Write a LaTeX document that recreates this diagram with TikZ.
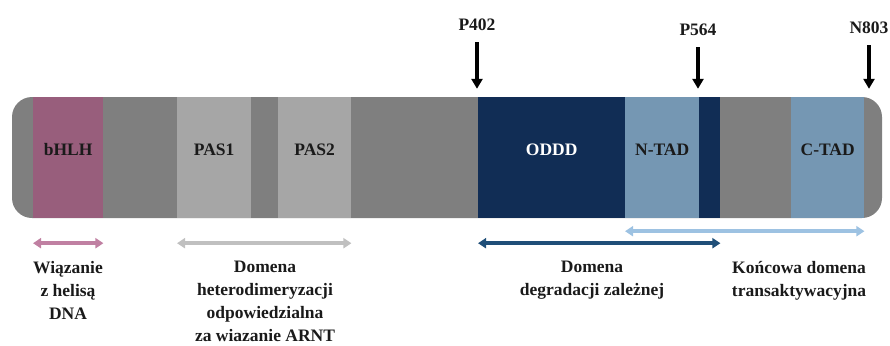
\documentclass[tikz,border=0pt]{standalone}
\usepackage{fontspec}
\setmainfont{Liberation Serif}
\usetikzlibrary{arrows.meta}
\definecolor{barGray}{HTML}{7F7F7F}
\definecolor{pasGray}{HTML}{A6A6A6}
\definecolor{hlhPink}{HTML}{985E7C}
\definecolor{navy}{HTML}{112D55}
\definecolor{tadBlue}{HTML}{7597B3}
\definecolor{txtDark}{HTML}{1A1A1A}
\definecolor{spanPink}{HTML}{C080A2}
\definecolor{spanGray}{HTML}{C0C0C0}
\definecolor{spanLight}{HTML}{9DC2E2}
\definecolor{spanDark}{HTML}{1F4E78}
\tikzset{
	seg/.style = {rectangle, anchor=west, minimum height=121pt, inner sep=0pt, text height=11.6pt, text depth=16pt, text=txtDark},
	marker/.style = {-{Triangle[length=10pt,width=11pt]}, line width=3.2pt, shorten <=8pt, shorten >=8pt},
	span/.style = {{Triangle[length=8pt,width=10pt]}-{Triangle[length=8pt,width=10pt]}, line width=3.5pt},
	note/.style = {align=center, anchor=north, inner sep=0pt, text=txtDark},
}
\begin{document}
\begin{tikzpicture}[x=1pt, y=-1pt, font=\bfseries\fontsize{17.5}{23}\selectfont]
	\useasboundingbox (0,0) rectangle (890,345);
	
	% Protein bar
	\node[fill=barGray, rounded corners=20pt, minimum width=870pt, minimum height=121pt, inner sep=0pt] (bar) at (447,157.5) {};
	\node[seg, fill=hlhPink, minimum width=70pt] (bhlh) at (33,157.5) {bHLH};
	\node[seg, fill=pasGray, minimum width=74pt] (pas1) at (177,157.5) {PAS1};
	\node[seg, fill=pasGray, minimum width=73pt] (pas2) at (278,157.5) {PAS2};
	\node[seg, fill=navy, text=white, minimum width=147pt] (oddd) at (478,157.5) {ODDD};
	\node[seg, fill=tadBlue, minimum width=74pt] (ntad) at (625,157.5) {N-TAD};
	\node[seg, fill=navy, minimum width=21pt] (odddtail) at (699,157.5) {};
	\node[seg, fill=tadBlue, minimum width=73pt] (ctad) at (791,157.5) {C-TAD};
	
	% Residues
	\node[text=txtDark] (p402) at (477,25) {P402};
	\node[text=txtDark] (p564) at (698,30) {P564};
	\node[text=txtDark] (n803) at (869,28) {N803};
	\draw[marker] (p402.south) -- (p402.south |- bar.north);
	\draw[marker] (p564.south) -- (p564.south |- bar.north);
	\draw[marker] (n803.south) -- (n803.south |- bar.north);
	
	% Domain spans
	\draw[span, spanPink] ([yshift=-25pt]bhlh.south west) -- ([yshift=-25pt]bhlh.south east);
	\draw[span, spanGray] ([yshift=-25pt]pas1.south west) -- ([yshift=-25pt]pas2.south east);
	\draw[span, spanLight] ([yshift=-13pt]ntad.south west) -- ([yshift=-13pt]ctad.south east);
	\draw[span, spanDark] ([yshift=-25pt]oddd.south west) -- ([yshift=-25pt]odddtail.south east);
	
	% Descriptions
	\node[note] (dna) at (68,261) {Wiązanie\\z helisą\\DNA};
	\node[note] (dimer) at (265,261) {Domena\\heterodimeryzacji\\odpowiedzialna\\za wiazanie ARNT};
	\node[note] (degr) at (592,261) {Domena\\degradacji zależnej};
	\node[note] (trans) at (799,261) {Końcowa domena\\transaktywacyjna};
	
\end{tikzpicture}
\end{document}
